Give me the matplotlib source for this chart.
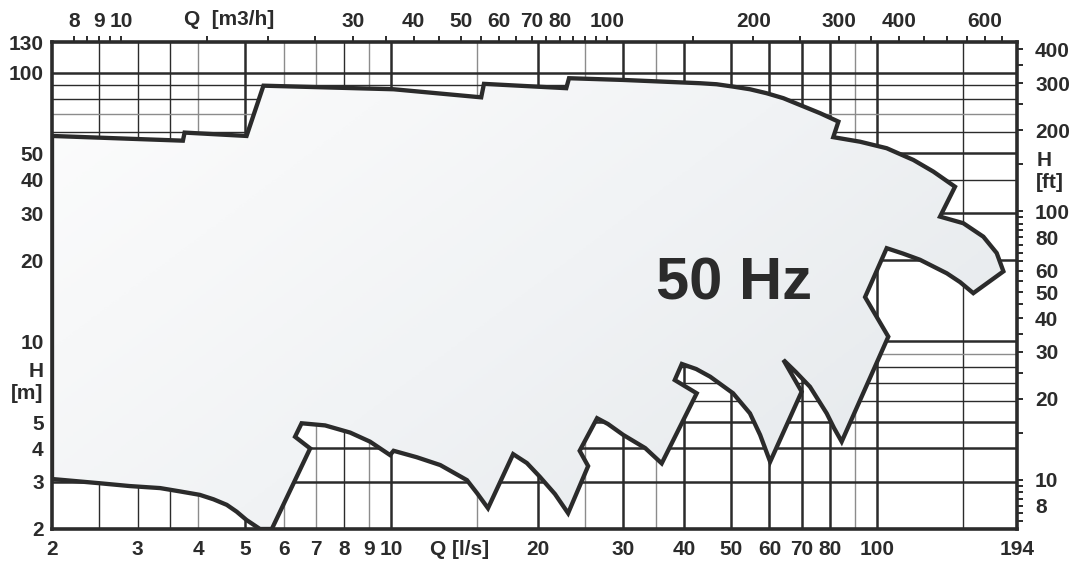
import numpy as np
import matplotlib
matplotlib.use("Agg")
import matplotlib.pyplot as plt
from matplotlib.patches import Polygon
from matplotlib.image import AxesImage
from matplotlib.colors import LinearSegmentedColormap
from matplotlib.ticker import FixedLocator, FixedFormatter, NullLocator
import matplotlib.transforms as mtransforms

plt.rcParams['font.family'] = ['Liberation Sans', 'DejaVu Sans']
plt.rcParams['font.weight'] = 'bold'

# ---------------- data ----------------
# Envelope of the pump range (Q in l/s, H in m), traced clockwise
Q_LS = [2.00, 2.00, 3.72, 3.75, 5.03, 5.45, 10.1, 15.3, 15.5, 22.9, 23.2, 30.0,
        43.2, 46.7, 50.5, 54.7, 59.2, 64.1, 69.3, 76.3, 83.2, 81.2, 92.2, 104.6,
        118.7, 130.5, 144.6, 134.7, 150.4, 165.4, 176.2, 181.9, 157.7, 148.1,
        139.1, 122.5, 113.0, 104.6,
        94.4, 105.4, 84.5, 81.5, 78.7, 72.7, 68.0, 64.1, 69.9, 60.2, 57.4, 54.7,
        50.5, 45.3, 42.4, 39.6,
        38.3, 42.5, 36.0, 33.3, 30.0, 27.9, 26.5, 24.4, 25.4, 23.1, 21.7, 20.2,
        19.0, 17.8, 15.8, 15.0, 14.3,
        12.6, 11.27, 10.1, 9.93, 9.03, 8.22, 7.30, 6.53, 6.33, 6.80, 5.67, 5.36,
        5.03, 4.80, 4.58, 4.30, 4.03, 3.67, 3.34, 2.89, 2.51]
H_M = [3.07, 58.1, 55.8, 59.8, 58.1, 89.4, 86.7, 80.9, 90.8, 87.5, 95.3, 93.9,
       91.3, 90.5, 88.7, 86.7, 83.8, 80.3, 75.8, 70.6, 65.7, 57.5, 55.3, 52.3,
       47.3, 42.8, 37.6, 29.1, 27.5, 24.5, 21.3, 18.2, 15.1, 16.6,
       17.9, 20.1, 21.2, 22.2,
       14.6, 10.4, 4.23, 4.75, 5.39, 6.77, 7.68, 8.52, 6.49, 3.56, 4.48, 5.39,
       6.40, 7.38, 7.88, 8.23,
       7.17, 6.40, 3.51, 4.00, 4.48, 4.92, 5.17, 3.91, 3.43, 2.29, 2.70, 3.13,
       3.52, 3.80, 2.39, 2.72, 3.04,
       3.46, 3.70, 3.91, 3.77, 4.23, 4.57, 4.86, 4.95, 4.41, 3.99, 2.0, 2.0,
       2.16, 2.32, 2.46, 2.58, 2.68, 2.76, 2.84, 2.89, 2.96]

Q_MIN, Q_MAX = 2, 194
H_MIN, H_MAX = 2, 130
M3H_PER_LS = 3.6
FT_PER_M = 3.281

bottom_labels = [2, 3, 4, 5, 6, 7, 8, 9, 10, 20, 30, 40, 50, 60, 70, 80, 100, 194]
left_labels = [2, 3, 4, 5, 10, 20, 30, 40, 50, 100, 130]
top_labels = [8, 9, 10, 30, 40, 50, 60, 70, 80, 100, 200, 300, 400, 600]
top_ticks = [8, 8.5, 9, 9.5, 10, 15, 20, 25, 30, 35, 40, 45, 50, 55, 60, 65, 70,
             75, 80, 85, 90, 95, 100, 150, 200, 250, 300, 350, 400, 450, 500,
             550, 600, 650]
right_labels = [8, 10, 20, 30, 40, 50, 60, 80, 100, 200, 300, 400]
right_ticks = [7, 7.5, 8, 8.5, 9, 9.5, 10, 15, 20, 25, 30, 35, 40, 45, 50, 55,
               60, 65, 70, 75, 80, 85, 90, 95, 100, 150, 200, 250, 300, 350, 400]

vgrid_thick = [5, 10, 20, 30, 40, 50, 60, 70, 80, 100]
vgrid_thin = [2.5, 3, 3.5, 8, 150]
vgrid_grey = [4, 6, 7, 9, 15, 25, 35, 90]
hgrid_thick = [3, 4, 5, 10, 20, 30, 50, 100]
hgrid_thin = [6, 7, 8, 40, 60, 80, 90]
hgrid_grey = [9, 70]

DARK = '#2b2b2b'
FS = 15

# ---------------- figure ----------------
fig = plt.figure(figsize=(10.77, 5.68), dpi=100)
ax = fig.add_axes([52/1077, 1-529/568, (1017-52)/1077, (529-42)/568])
ax.set_xscale('log')
ax.set_yscale('log')
ax.set_xlim(Q_MIN, Q_MAX)
ax.set_ylim(H_MIN, H_MAX)
ax.set_autoscale_on(False)

for v in vgrid_thick:
    ax.axvline(v, color=DARK, lw=1.8, zorder=1)
for v in vgrid_thin:
    ax.axvline(v, color=DARK, lw=1.0, zorder=1)
for v in vgrid_grey:
    ax.axvline(v, color='#8c8c8c', lw=1.0, zorder=1)
for h in hgrid_thick:
    ax.axhline(h, color=DARK, lw=1.8, zorder=1)
for h in hgrid_thin:
    ax.axhline(h, color=DARK, lw=1.0, zorder=1)
for h in hgrid_grey:
    ax.axhline(h, color='#8c8c8c', lw=1.0, zorder=1)

pts = np.column_stack([Q_LS, H_M])
clip_poly = Polygon(pts, closed=True, facecolor='none', edgecolor='none')
ax.add_patch(clip_poly)

cmap = LinearSegmentedColormap.from_list('g', ['#fdfdfd', '#f1f3f5', '#e3e7ea'])
X, Y = np.meshgrid(np.linspace(0, 1, 300), np.linspace(0, 1, 300))
Z = (X * 0.6 + (1 - Y) * 0.4)
im = AxesImage(ax, cmap=cmap, extent=(0, 1, 0, 1), origin='lower',
               interpolation='bilinear', transform=ax.transAxes)
im.set_data(Z)
im.set_zorder(2)
ax.add_image(im)
im.set_clip_path(clip_poly)

edge = Polygon(pts, closed=True, facecolor='none', edgecolor=DARK, lw=3.1,
               joinstyle='miter', zorder=3)
ax.add_patch(edge)

ax.text(50.7, 16.3, '50 Hz', fontsize=43, fontweight='bold', color=DARK,
        ha='center', va='center', zorder=5)

for s in ax.spines.values():
    s.set_linewidth(2.6)
    s.set_color(DARK)
    s.set_zorder(4)

# bottom / left labels
ax.xaxis.set_major_locator(FixedLocator(bottom_labels))
ax.xaxis.set_major_formatter(FixedFormatter([str(v) for v in bottom_labels]))
ax.xaxis.set_minor_locator(NullLocator())
ax.yaxis.set_major_locator(FixedLocator(left_labels))
ax.yaxis.set_major_formatter(FixedFormatter([str(v) for v in left_labels]))
ax.yaxis.set_minor_locator(NullLocator())
ax.tick_params(axis='x', which='both', length=0, pad=8, labelsize=FS, colors=DARK)
ax.tick_params(axis='y', which='both', length=0, pad=6, labelsize=FS, colors=DARK)

# top axis (m3/h)
axt = ax.twiny()
axt.set_xscale('log')
axt.set_xlim(Q_MIN * M3H_PER_LS, Q_MAX * M3H_PER_LS)
axt.xaxis.set_major_locator(FixedLocator(top_ticks))
axt.xaxis.set_major_formatter(FixedFormatter(
    [str(v) if v in top_labels else '' for v in top_ticks]))
axt.xaxis.set_minor_locator(NullLocator())
axt.tick_params(axis='x', which='major', direction='out', length=4.5, width=1.4,
                pad=3.5, labelsize=FS, colors=DARK)

# right axis (ft)
axr = ax.twinx()
axr.set_yscale('log')
axr.set_ylim(H_MIN * FT_PER_M, H_MAX * FT_PER_M)
axr.yaxis.set_major_locator(FixedLocator(right_ticks))
axr.yaxis.set_major_formatter(FixedFormatter(
    [str(v) if v in right_labels else '' for v in right_ticks]))
axr.yaxis.set_minor_locator(NullLocator())
axr.tick_params(axis='y', which='major', direction='out', length=4.0, width=1.4,
                pad=9, labelsize=FS, colors=DARK)

for a in (axt, axr):
    for s in a.spines.values():
        s.set_visible(False)

# axis titles
tb = mtransforms.blended_transform_factory(ax.transData, ax.transAxes)
ax.text(4.63, 1.047, 'Q  [m3/h]', transform=tb, fontsize=FS, fontweight='bold',
        color=DARK, ha='center', va='center')
ax.text(13.8, -0.043, 'Q [l/s]', transform=tb, fontsize=FS, fontweight='bold',
        color=DARK, ha='center', va='center')
tl = mtransforms.blended_transform_factory(ax.transAxes, ax.transData)
ax.text(-0.009, 7.0, 'H\n[m]', transform=tl, fontsize=FS, fontweight='bold',
        color=DARK, ha='right', va='center', linespacing=1.2)
ax.text(1.02, 42.7, 'H\n[ft]', transform=tl, fontsize=FS, fontweight='bold',
        color=DARK, ha='left', va='center', linespacing=1.2)

fig.savefig('out.png', dpi=100)
